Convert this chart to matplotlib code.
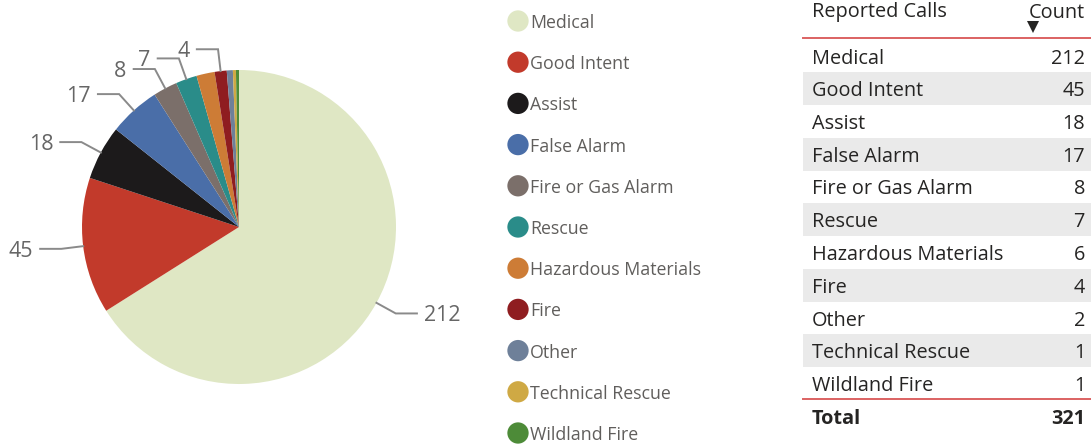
import numpy as np
import matplotlib
matplotlib.use("Agg")
import matplotlib.pyplot as plt
from matplotlib.patches import Rectangle

plt.rcParams['font.family'] = ['Open Sans', 'DejaVu Sans']

categories = ["Medical", "Good Intent", "Assist", "False Alarm", "Fire or Gas Alarm",
              "Rescue", "Hazardous Materials", "Fire", "Other", "Technical Rescue",
              "Wildland Fire"]
counts = [212, 45, 18, 17, 8, 7, 6, 4, 2, 1, 1]
colors = ["#dfe7c4", "#c23a2b", "#1c1a1b", "#4a6ea8", "#7b6f6a", "#2a8c89",
          "#cd7c36", "#8f1d20", "#6e8099", "#cfa944", "#4d8b38"]
shown_labels = [True, True, True, True, True, True, False, True, False, False, False]
total_label = "Total"
header = ["Reported Calls", "Count"]

W, H = 1091, 445
fig = plt.figure(figsize=(W / 100, H / 100), dpi=100)

# ---- Pie (data unit = radius 157 px) ----
R = 157.0
cx, cy = 239.0, 227.0
pw = 480
ax = fig.add_axes([0, 0, pw / W, 1])
wedges, _ = ax.pie(counts, colors=colors, startangle=90, counterclock=False,
                   radius=1.0, wedgeprops=dict(linewidth=0))
ax.set_xlim(-cx / R, (pw - cx) / R)
ax.set_ylim(-(H - cy) / R, cy / R)
ax.set_aspect('auto')
ax.axis('off')

label_color = "#666666"
line_color = "#8a8a8a"
for w, v, show in zip(wedges, counts, shown_labels):
    if not show:
        continue
    th = np.deg2rad((w.theta1 + w.theta2) / 2)
    c, s = np.cos(th), np.sin(th)
    p0 = (1.0 * c, 1.0 * s)
    p1 = (1.14 * c, 1.14 * s)
    side = 1 if c > 0 else -1
    p2 = (p1[0] + side * 0.135, p1[1])
    ax.plot([p0[0], p1[0], p2[0]], [p0[1], p1[1], p2[1]], color=line_color,
            lw=1.4, solid_joinstyle='miter')
    ax.text(p2[0] + side * 0.045, p2[1], str(v),
            ha='left' if side > 0 else 'right',
            va='center_baseline', fontsize=15.5, color=label_color)

# ---- overlay in pixel coords ----
ov = fig.add_axes([0, 0, 1, 1])
ov.set_xlim(0, W)
ov.set_ylim(H, 0)
ov.axis('off')

# Legend
leg_x, leg_y0, leg_dy = 518, 21, 41.2
for i, (cat, col) in enumerate(zip(categories, colors)):
    y = leg_y0 + i * leg_dy
    ov.scatter([leg_x], [y], s=235, color=col, edgecolors='none')
    ov.text(leg_x + 12, y, cat, ha='left', va='center_baseline', fontsize=12.8,
            color="#605e5c")

# Table
tx0, tx1 = 803, 1091
name_x, val_x = 812, 1085
txt_col = "#252423"
ov.text(name_x, 10, header[0], ha='left', va='center_baseline', fontsize=14.3, color=txt_col)
ov.text(val_x, 10, header[1], ha='right', va='center_baseline', fontsize=14.3, color=txt_col)
ov.scatter([1033], [27], marker='v', s=75, color='#252423', edgecolors='none')
ov.plot([tx0, tx1], [37.5, 37.5], color="#dc6262", lw=1.4)

row_y0, row_dy = 56, 32.75
for i, (cat, v) in enumerate(zip(categories, counts)):
    y = row_y0 + i * row_dy
    if i % 2 == 1:
        ov.add_patch(Rectangle((tx0, y - row_dy / 2), tx1 - tx0, row_dy,
                               facecolor="#eaeaea", edgecolor='none', zorder=0))
    ov.text(name_x, y, cat, ha='left', va='center_baseline', fontsize=14.3, color=txt_col)
    ov.text(val_x, y, str(v), ha='right', va='center_baseline', fontsize=14.3, color=txt_col)

ov.plot([tx0, tx1], [399, 399], color="#dc6262", lw=1.4)
ov.text(name_x, 417, total_label, ha='left', va='center_baseline', fontsize=14.3,
        color=txt_col, fontweight='bold')
ov.text(val_x, 417, str(sum(counts)), ha='right', va='center_baseline', fontsize=14.3,
        color=txt_col, fontweight='bold')

fig.savefig("out.png", dpi=100)
